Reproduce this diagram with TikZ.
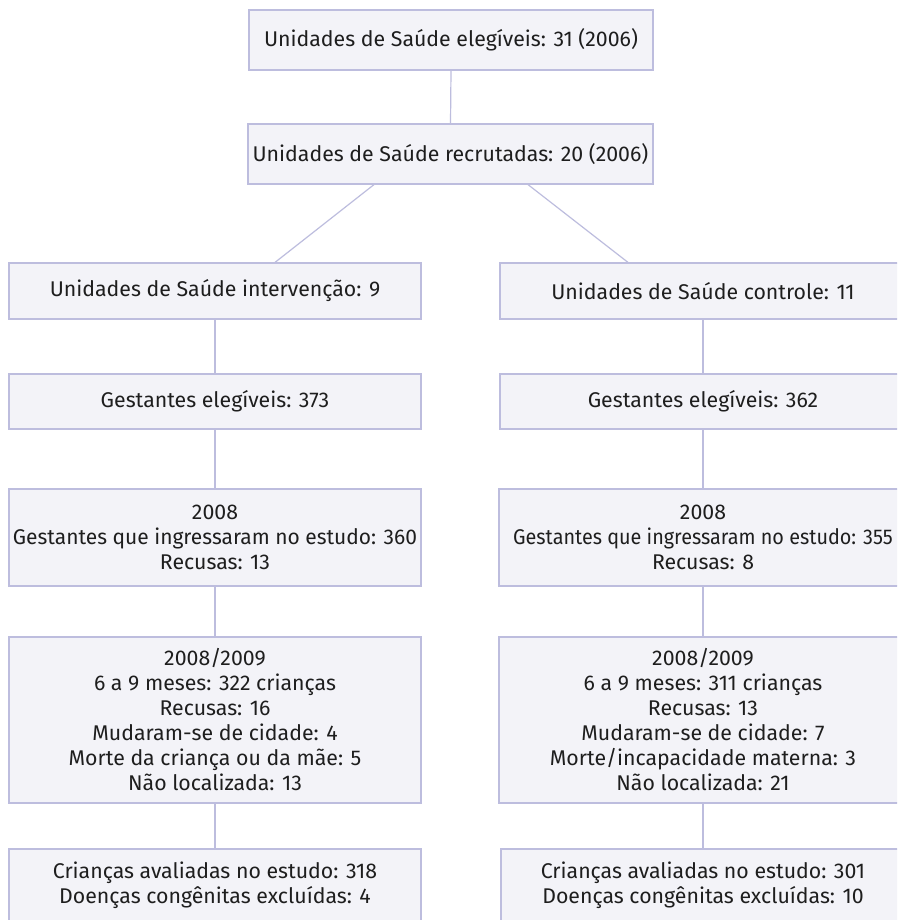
\documentclass[tikz,border=0pt]{standalone}
\usepackage{graphicx}
\usepackage{fontspec}
\setmainfont{Fira Sans}
\definecolor{boxfill}{HTML}{F3F3F8}
\definecolor{boxline}{HTML}{BDBDDE}
\definecolor{txt}{HTML}{1E1E1E}
\begin{document}
\begin{tikzpicture}[x=1pt,y=-1pt,
  flowbox/.style={draw=boxline,fill=boxfill,line width=1.2pt,inner sep=0pt,
    align=center,text=txt,font=\fontsize{21.3}{25}\selectfont,
    minimum width=#1},
  flowbox/.default=406pt,
  link/.style={draw=boxline,line width=1.2pt}]
\useasboundingbox (0,0) rectangle (897,920);
\clip (0,0) rectangle (897,920);
\fill[white] (0,0) rectangle (897,920);
% top
\node[flowbox=404pt,minimum height=60pt] (b1) at (451,40) {Unidades de Saúde elegíveis: 31 (2006)};
\node[flowbox=405pt,minimum height=60pt] (b2) at (450.5,154) {Unidades de Saúde recrutadas: 20 (2006)};
% left column
\node[flowbox=412pt,minimum height=56pt] (l1) at (215,291) {Unidades de Saúde intervenção: 9};
\node[flowbox=412pt,minimum height=55pt] (l2) at (215,401.5) {Gestantes elegíveis: 373};
\node[flowbox=412pt,minimum height=97pt] (l3) at (215,537.5) {2008\\\scalebox{0.985}[1]{Gestantes que ingressaram no estudo: 360}\\Recusas: 13};
\node[flowbox=412pt,minimum height=166pt] (l4) at (215,720) {2008/2009\\6 a 9 meses: 322 crianças\\Recusas: 16\\Mudaram-se de cidade: 4\\Morte da criança ou da mãe: 5\\Não localizada: 13};
\node[flowbox=412pt,minimum height=72pt] (l5) at (215,885) {Crianças avaliadas no estudo: 318\\Doenças congênitas excluídas: 4};
% right column
\node[flowbox=406pt,minimum height=56pt] (r1) at (703,291) {Unidades de Saúde controle: 11};
\node[flowbox=406pt,minimum height=55pt] (r2) at (703,401.5) {Gestantes elegíveis: 362};
\node[flowbox=408pt,minimum height=97pt] (r3) at (703,537.5) {2008\\\scalebox{0.93}[1]{Gestantes que ingressaram no estudo: 355}\\Recusas: 8};
\node[flowbox=408pt,minimum height=166pt] (r4) at (703,720) {2008/2009\\6 a 9 meses: 311 crianças\\Recusas: 13\\Mudaram-se de cidade: 7\\Morte/incapacidade materna: 3\\Não localizada: 21};
\node[flowbox=404pt,minimum height=72pt] (r5) at (703,885) {Crianças avaliadas no estudo: 301\\Doenças congênitas excluídas: 10};
% connectors
\draw[link] (b1.south) -- (b2.north);
\draw[link] ([xshift=-76.5pt]b2.south) -- ([xshift=60pt]l1.north);
\draw[link] ([xshift=77.5pt]b2.south) -- ([xshift=-75pt]r1.north);
\draw[link] (l1.south) -- (l2.north);
\draw[link] (l2.south) -- (l3.north);
\draw[link] (l3.south) -- (l4.north);
\draw[link] (l4.south) -- (l5.north);
\draw[link] (r1.south) -- (r2.north);
\draw[link] (r2.south) -- (r3.north);
\draw[link] (r3.south) -- (r4.north);
\draw[link] (r4.south) -- (r5.north);
\end{tikzpicture}
\end{document}
